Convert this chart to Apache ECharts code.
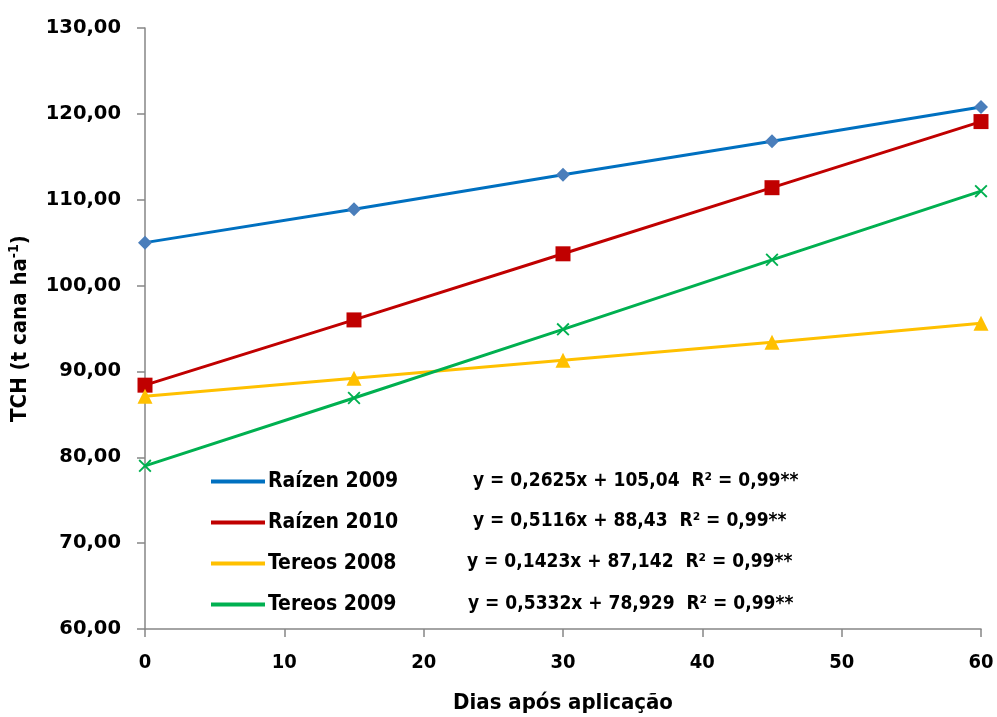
<!DOCTYPE html>
<html><head><meta charset="utf-8">
<script src="https://cdn.jsdelivr.net/npm/echarts@6/dist/echarts.min.js"></script>
<style>html,body{margin:0;padding:0;background:#fff}#c{width:997px;height:717px}</style>
</head><body><div id="c"></div>
<script>
const days = [0, 15, 30, 45, 60];
const raizen2009 = [105.0, 108.9, 112.9, 116.8, 120.8];
const raizen2010 = [88.4, 96.0, 103.7, 111.4, 119.1];
const tereos2008 = [87.1, 89.2, 91.3, 93.4, 95.6];
const tereos2009 = [79.0, 86.9, 94.9, 103.0, 111.0];
const seriesNames = ['Raízen 2009', 'Raízen 2010', 'Tereos 2008', 'Tereos 2009'];
const equations = [
  'y = 0,2625x + 105,04  R² = 0,99**',
  'y = 0,5116x + 88,43  R² = 0,99**',
  'y = 0,1423x + 87,142  R² = 0,99**',
  'y = 0,5332x + 78,929  R² = 0,99**'
];
const yTicks = {min: 60, max: 130, step: 10};
const xTicks = {min: 0, max: 60, step: 10};

const lineColors = ['#0070C0', '#C00000', '#FFC000', '#00B050'];
const pairs = arr => days.map((d, i) => [d, arr[i]]);
const xPath = 'path://M0,1L1,0L5,4L9,0L10,1L6,5L10,9L9,10L5,6L1,10L0,9L4,5Z';
const lab = "DejaVu Sans Condensed";
const chart = echarts.init(document.getElementById('c'));
const mk = (name, data, color, mcolor, symbol, size) => ({
  name, type: 'line', data: pairs(data), symbol, symbolSize: size,
  lineStyle: {color, width: 3}, itemStyle: {color: mcolor},
  showAllSymbol: true, animation: false, z: 3
});
chart.setOption({
  animation: false,
  grid: {left: 145, right: 16, top: 28, bottom: 88, outerBoundsMode: 'none', containLabel: false},
  xAxis: {
    type: 'value', min: xTicks.min, max: xTicks.max, interval: xTicks.step,
    axisLine: {lineStyle: {color: '#868686', width: 1.5}},
    axisTick: {show: true, inside: false, length: 8, lineStyle: {color: '#868686', width: 1.5}},
    splitLine: {show: false},
    axisLabel: {color: '#000', fontFamily: lab, fontWeight: 'bold', fontSize: 20, margin: 24},
    name: 'Dias após aplicação', nameLocation: 'middle', nameGap: 63,
    nameTextStyle: {color: '#000', fontFamily: lab, fontWeight: 'bold', fontSize: 22}
  },
  yAxis: {
    type: 'value', min: yTicks.min, max: yTicks.max, interval: yTicks.step,
    axisLine: {show: true, lineStyle: {color: '#868686', width: 1.5}},
    axisTick: {show: true, inside: false, length: 8, lineStyle: {color: '#868686', width: 1.5}},
    splitLine: {show: false},
    axisLabel: {color: '#000', fontFamily: 'DejaVu Sans', fontWeight: 'bold', fontSize: 19.5, margin: 24,
      formatter: v => v.toFixed(2).replace('.', ',')},
    name: '{a|TCH (t cana ha}{s|-1}{a|)}', nameLocation: 'middle', nameGap: 112, nameRotate: 90,
    nameTextStyle: {rich: {
      a: {color: '#000', fontFamily: lab, fontWeight: 'bold', fontSize: 22},
      s: {color: '#000', fontFamily: lab, fontWeight: 'bold', fontSize: 14, verticalAlign: 'top', padding: [0, 0, 12, 0]}
    }}
  },
  legend: {
    orient: 'vertical', left: 206, top: 466, itemWidth: 54, itemHeight: 4, itemGap: 20,
    icon: 'rect',
    data: seriesNames.map((n, i) => ({name: n, itemStyle: {color: lineColors[i]}})),
    textStyle: {color: '#000', fontFamily: lab, fontWeight: 'bold', fontSize: 21, padding: [0, 0, 0, -2]}
  },
  graphic: equations.map((t, i) => ({
    type: 'text', left: [473, 473, 467, 468][i], top: [480, 520, 561, 603][i] - 8,
    style: {text: t, fill: '#000', font: 'bold 19px "DejaVu Sans Condensed"'}
  })),
  series: [
    mk(seriesNames[0], raizen2009, lineColors[0], '#4A7EBB', 'diamond', 14),
    mk(seriesNames[1], raizen2010, lineColors[1], '#C00000', 'rect', 15),
    mk(seriesNames[2], tereos2008, lineColors[2], '#FFC000', 'triangle', 15),
    mk(seriesNames[3], tereos2009, lineColors[3], '#00B050', xPath, 13)
  ]
});
</script></body></html>
